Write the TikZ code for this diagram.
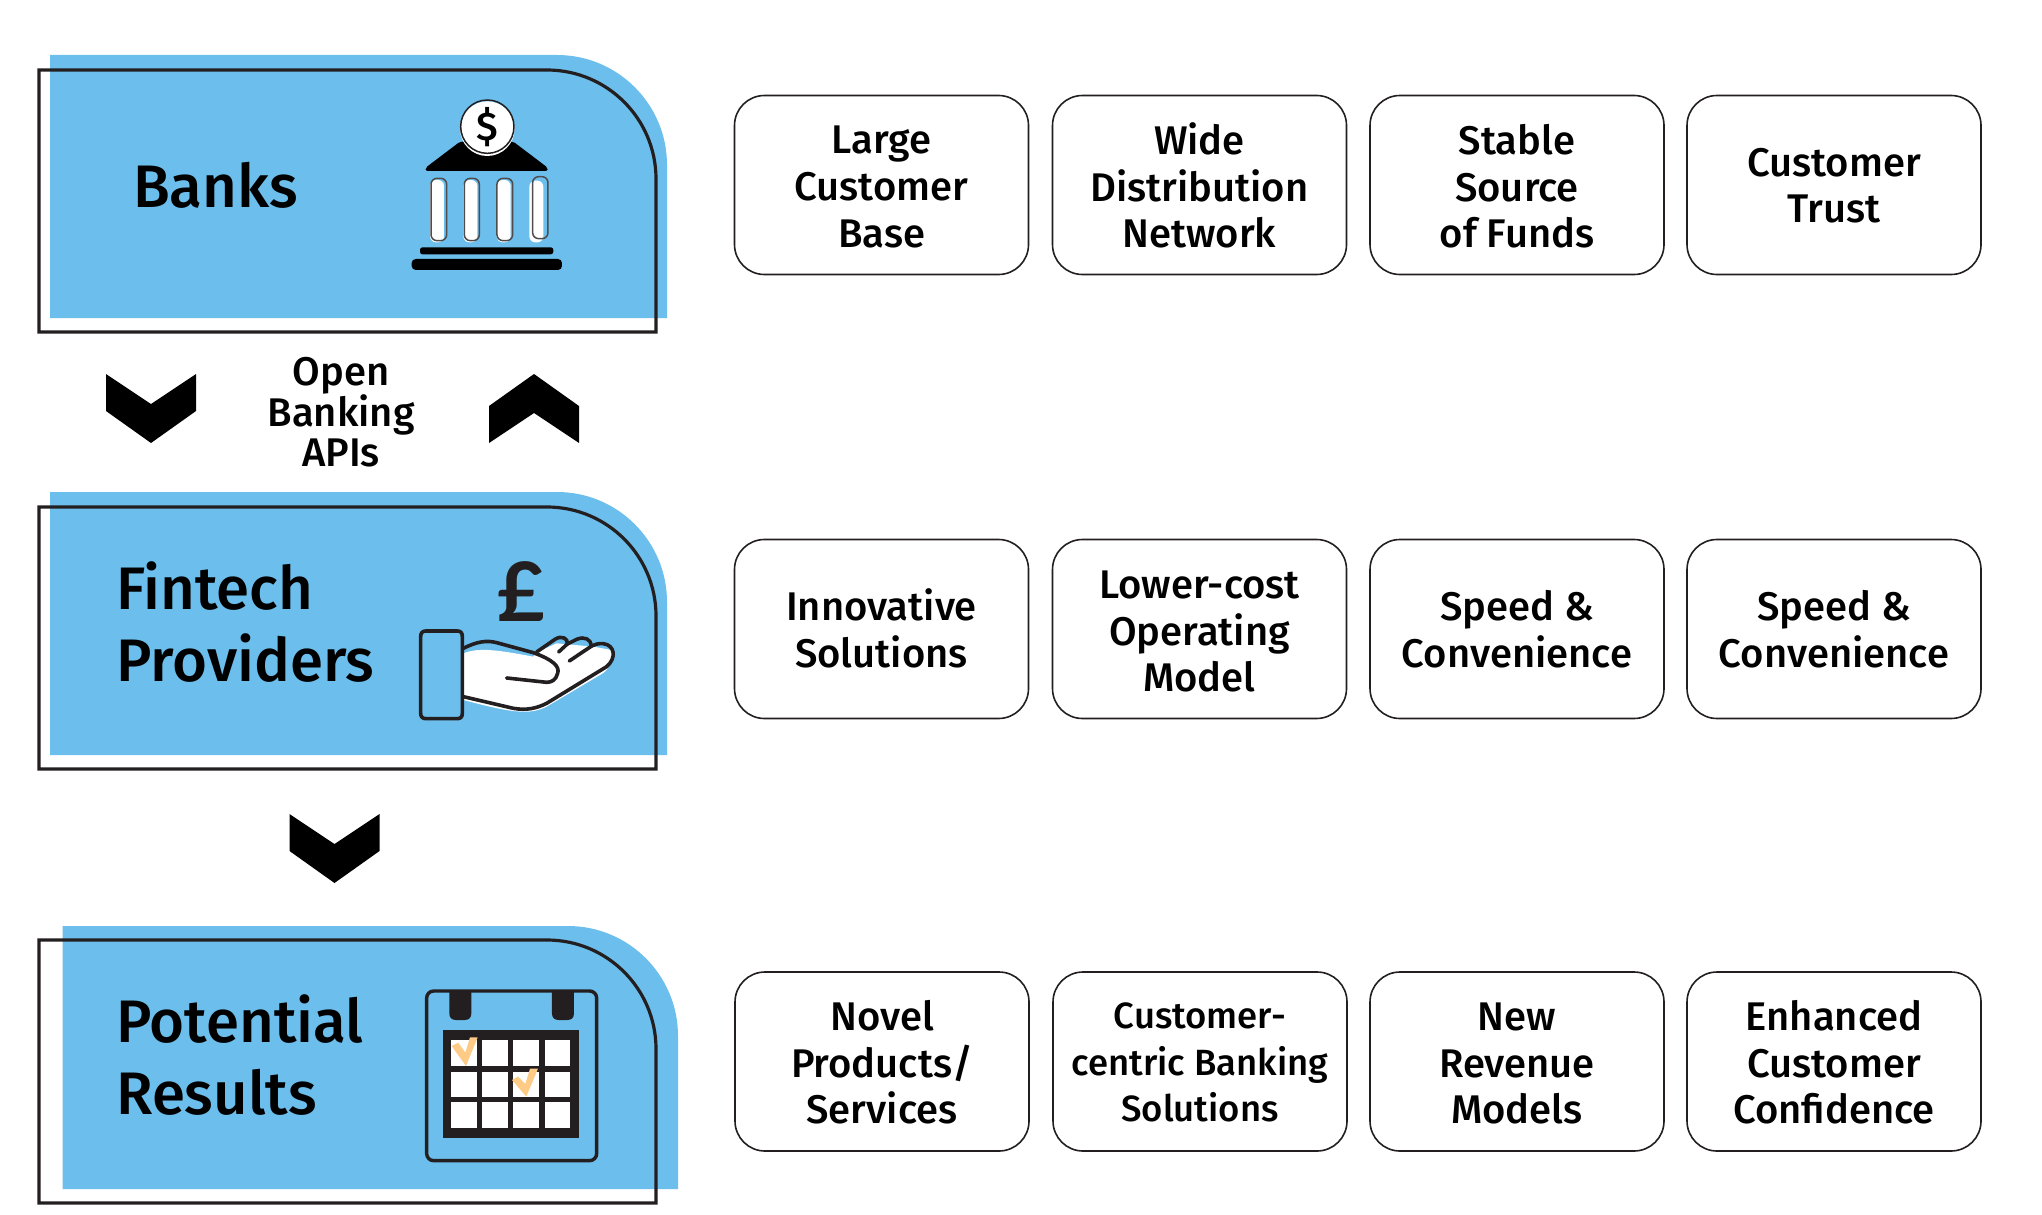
\documentclass[tikz,border=0pt]{standalone}
\usepackage{fontspec}
\setmainfont{Fira Sans Medium}
\newfontfamily\poundfont{Lato}
\definecolor{cardblue}{HTML}{6CBEEC}
\definecolor{ink}{HTML}{231F20}
\definecolor{tick}{HTML}{FDCB85}
\newcommand{\boxfont}{\fontsize{40}{46.6}\selectfont}
\newcommand{\titlefont}{\fontsize{60}{72}\selectfont}
\newcommand{\midfont}{\fontsize{40}{40}\selectfont}
\tikzset{
  x=1pt,y=-1pt,
  infobox/.style={draw=ink,line width=1.6pt,rounded corners=30pt,fill=white,minimum width=294pt,minimum height=179pt,align=center,inner sep=0pt,font=\boxfont},
  titletext/.style={anchor=west,align=left,inner sep=0pt,font=\titlefont},
  cardfill/.style={fill=cardblue},
  frameline/.style={draw=ink,line width=3.2pt,miter limit=10},
  chev/.style={fill=black},
  iconline/.style={draw=ink,line width=3.6pt,line cap=round,line join=round},
  pillarline/.style={draw=ink!80,line width=1.5pt,rounded corners=6pt},
}
% #1 card left, #2 card top, #3 card right, #4 card bottom
\newcommand{\card}[4]{\fill[cardfill] (#1,#4) -- (#1,#2) -- (#3-110,#2) arc[start angle=90,end angle=0,x radius=110,y radius=-110] -- (#3,#4) -- cycle;}
\newcommand{\framecard}[2]{\draw[frameline] (39,#2) -- (39,#1) -- (547,#1) arc[start angle=90,end angle=0,x radius=109,y radius=-109] -- (656,#2) -- cycle;}
\newcommand{\chevdown}[2]{\fill[chev] (#1-45,#2) -- (#1,#2+30) -- (#1+45,#2) -- (#1+45,#2+37) -- (#1,#2+69) -- (#1-45,#2+37) -- cycle;}
\newcommand{\chevup}[2]{\fill[chev] (#1-45,#2+69) -- (#1,#2+39) -- (#1+45,#2+69) -- (#1+45,#2+32) -- (#1,#2) -- (#1-45,#2+32) -- cycle;}
% #1 name, #2 x, #3 y, #4 text shift, #5 text
\newcommand{\infocell}[5]{\node[infobox] (#1) at (#2,#3) {};\node[inner sep=0pt,align=center,font=\boxfont] (#1t) at (#2,#3+#4) {#5};}
\begin{document}
\begin{tikzpicture}
\useasboundingbox (0,0) rectangle (2042,1215);
\fill[white] (0,0) rectangle (2042,1215);

% cards
\card{50}{55}{667}{318}
\card{50}{492}{667}{755}
\card{62.5}{926}{678}{1189}

% bank icon
\begin{scope}[shift={(380,80)},x=0.3333pt,y=-0.3333pt]
  \fill[black,rounded corners=2pt] (137,273) -- (137,263) -- (240,185) -- (400,185) -- (503,263) -- (503,273) -- cycle;
  \fill[white] (322,146) circle[radius=82];
  \draw[ink,line width=1.5pt] (322,140) circle[radius=80];
  \foreach \a/\b/\c/\d in {150/192/300/487, 250/292/300/487, 350/392/300/487, 448/490/302/487}
    \fill[white,rounded corners=6pt] (\a,\c) rectangle (\b,\d);
  \foreach \a/\b/\c/\d in {153/200/295/482, 253/298/295/482, 351/398/295/482, 458/504/290/476}
    \draw[pillarline] (\a,\c) rectangle (\b,\d);
  \fill[black,rounded corners=2.5pt] (120,502) rectangle (520,523);
  \fill[black,rounded corners=4pt] (95,537) rectangle (546,570);
\end{scope}
\node[inner sep=0pt,font=\fontsize{40}{40}\selectfont] (dollar) at (487,127) {\$};

% hand icon
\begin{scope}[shift={(380,480)},x=0.3333pt,y=-0.3333pt]
  \fill[white] (250,520) .. controls (290,505) and (330,505) .. (460,530) -- (475,515) -- (530,490) -- (640,500) -- (695,510) .. controls (700,540) and (690,570) .. (660,585) -- (500,680) .. controls (450,705) and (400,700) .. (250,660) -- cycle;
  \draw[iconline] (250,505) .. controls (290,485) and (320,480) .. (350,488) -- (460,518) .. controls (520,540) and (540,560) .. (533,580) .. controls (528,600) and (515,607) .. (500,607) -- (380,594);
  \draw[iconline] (250,650) -- (400,685) .. controls (440,692) and (470,685) .. (500,670) -- (680,560) .. controls (710,535) and (705,495) .. (670,491) .. controls (655,490) and (645,493) .. (635,498) -- (568,543);
  \draw[iconline] (470,516) -- (525,478) .. controls (545,465) and (565,475) .. (562,492) -- (536,516);
  \draw[iconline] (562,492) -- (590,478) .. controls (615,468) and (632,478) .. (635,498);
  \draw[iconline] (122,470) .. controls (122,458) and (128,453) .. (138,453) -- (232,453) .. controls (242,453) and (247,458) .. (247,470) -- (247,700) .. controls (247,711) and (242,716) .. (232,716) -- (138,716) .. controls (128,716) and (122,711) .. (122,700) -- cycle;
\end{scope}
\node[inner sep=0pt,text=ink,font=\poundfont\bfseries\fontsize{82}{82}\selectfont] (pound) at (521,592) {£};

% calendar icon
\begin{scope}[shift={(380,920)},x=0.3333pt,y=-0.3333pt]
  \draw[ink,line width=3.4pt,rounded corners=7pt] (140,213) rectangle (650,722);
  \fill[ink] (208,213) -- (208,280) .. controls (208,293) and (215,300) .. (228,300) -- (254,300) .. controls (267,300) and (274,293) .. (274,280) -- (274,213) -- cycle;
  \fill[ink] (516,213) -- (516,280) .. controls (516,293) and (523,300) .. (536,300) -- (562,300) .. controls (575,300) and (582,293) .. (582,280) -- (582,213) -- cycle;
  \fill[ink] (188,331) rectangle (597,655);
  \foreach \yy in {361,455,547}
    \foreach \xx in {213,306,400,494}
      \fill[white] (\xx,\yy) rectangle +(77,77);
  \fill[tick] (215,378) -- (235,368) -- (256,398) -- (270,352) -- (293,352) -- (258,438) -- cycle;
  \fill[tick] (396,480) -- (414,470) -- (436,492) -- (450,446) -- (474,446) -- (439,530) -- cycle;
\end{scope}

% frames
\framecard{70}{332}
\framecard{507}{769}
\framecard{940}{1203}

% titles
\node[titletext] (t1) at (133,185) {Banks};
\node[titletext] (t2) at (116,622) {Fintech\\Providers};
\node[titletext] (t3) at (116,1055) {Potential\\Results};

% chevrons and label
\chevdown{151}{374}
\chevup{534}{374}
\chevdown{334.5}{814}
\node[align=center,inner sep=0pt,font=\midfont] (api) at (341,412) {Open\\Banking\\APIs};

% row 1
\infocell{a1}{881.5}{185}{2}{Large\\Customer\\Base}
\infocell{a2}{1199.5}{185}{0.5}{Wide\\Distribution\\Network}
\infocell{a3}{1517}{185}{1.5}{Stable\\Source\\of Funds}
\infocell{a4}{1834}{185}{0.5}{Customer\\Trust}
% row 2
\infocell{b1}{881.5}{629}{-0.5}{Innovative\\Solutions}
\infocell{b2}{1199.5}{629}{2.5}{Lower-cost\\Operating\\Model}
\infocell{b3}{1517}{629}{0}{Speed \&\\Convenience}
\infocell{b4}{1834}{629}{0}{Speed \&\\Convenience}
% row 3
\infocell{c1}{882}{1061.5}{1}{Novel\\Products/\\Services}
\node[infobox] (c2) at (1200,1061.5) {};
\node[inner sep=0pt,align=center,font=\fontsize{36.5}{46.6}\selectfont] (c2t) at (1200,1062.5) {Customer-\\centric Banking\\Solutions};
\infocell{c3}{1517}{1061.5}{2}{New\\Revenue\\Models}
\infocell{c4}{1834}{1061.5}{1}{Enhanced\\Customer\\Confidence}
\end{tikzpicture}
\end{document}
